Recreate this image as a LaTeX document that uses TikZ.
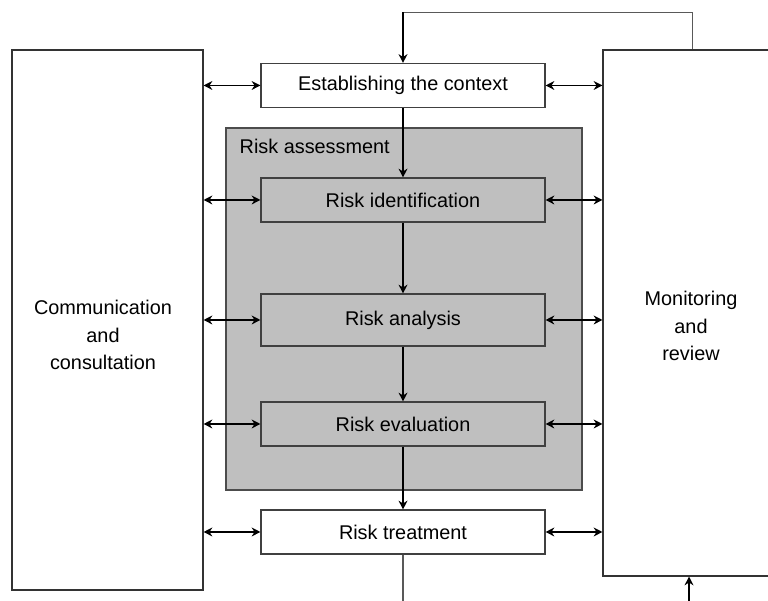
\documentclass[tikz,border=0pt]{standalone}
\usepackage{fontspec}
\setmainfont{Liberation Sans}
\usetikzlibrary{arrows.meta}

\tikzset{
  stepbox/.style={draw=black!75, line width=0.6pt, fill=white, minimum width=5.68cm, minimum height=0.88cm, inner sep=0pt},
  sidebox/.style={draw=black!80, line width=0.6pt, fill=white, inner sep=0pt},
  link/.style={line width=1.1pt, {Stealth[length=5pt,width=5pt]}-{Stealth[length=5pt,width=5pt]}},
  flow/.style={line width=1.1pt, -{Stealth[length=5pt,width=5pt]}},
  thinline/.style={draw=black!65, line width=0.6pt}
}

\begin{document}
\begin{tikzpicture}[font=\fontsize{11.3}{15.6}\selectfont]

\useasboundingbox (0,0) rectangle (15.36,12.02);

\coordinate (bottom) at (0,0);

\node [sidebox, minimum width=3.82cm, minimum height=10.8cm] (comm) at (2.15,5.62) {};
\node [sidebox, minimum width=3.48cm, minimum height=10.52cm] (monitor) at (13.8,5.76) {};

\node [align=center] (commtext) at ([shift={(-0.09,-0.3)}]comm.center) {Communication\\and\\consultation};
\node [align=center] (monitortext) at ([shift={(0.02,-0.26)}]monitor.center) {Monitoring\\and\\review};

\node [draw=black!70, line width=0.6pt, fill=black!25, minimum width=7.12cm, minimum height=7.24cm, inner sep=0pt] (assess) at (8.08,5.84) {};
\node [anchor=north west] (assesslabel) at ([shift={(0.16,-0.1)}]assess.north west) {Risk assessment};

\node [stepbox] (context) at (8.06,10.31) {Establishing the context};
\node [stepbox, fill=black!25] (ident) at (8.06,8.02) {Risk identification};
\node [stepbox, fill=black!25, minimum height=1.04cm] (analysis) at (8.06,5.62) {Risk analysis};
\node [stepbox, fill=black!25] (evaluation) at (8.06,3.54) {Risk evaluation};
\node [stepbox] (treatment) at (8.06,1.38) {Risk treatment};

\draw [flow] (context) -- (ident);
\draw [flow] (ident) -- (analysis);
\draw [flow] (analysis) -- (evaluation);
\draw [flow] (evaluation) -- (treatment);

\draw [link] (comm.east |- context.west) -- (context.west);
\draw [link] (comm.east |- ident.west) -- (ident.west);
\draw [link] (comm.east |- analysis.west) -- (analysis.west);
\draw [link] (comm.east |- evaluation.west) -- (evaluation.west);
\draw [link] (comm.east |- treatment.west) -- (treatment.west);

\draw [link] (context.east) -- (monitor.west |- context.east);
\draw [link] (ident.east) -- (monitor.west |- ident.east);
\draw [link] (analysis.east) -- (monitor.west |- analysis.east);
\draw [link] (evaluation.east) -- (monitor.west |- evaluation.east);
\draw [link] (treatment.east) -- (monitor.west |- treatment.east);

\coordinate (loopr) at ([shift={(0.05,0.74)}]monitor.north);
\coordinate (loopl) at (context.north |- loopr);
\draw [thinline] ([xshift=0.05cm]monitor.north) -- (loopr) -- (loopl);
\draw [flow] (loopl) -- (context.north);

\coordinate (exit) at (treatment.south |- bottom);
\coordinate (entry) at ([xshift=-0.02cm]monitor.south |- bottom);
\draw [thinline] (treatment.south) -- (exit);
\draw [flow] (entry) -- (entry |- monitor.south);

\end{tikzpicture}
\end{document}
